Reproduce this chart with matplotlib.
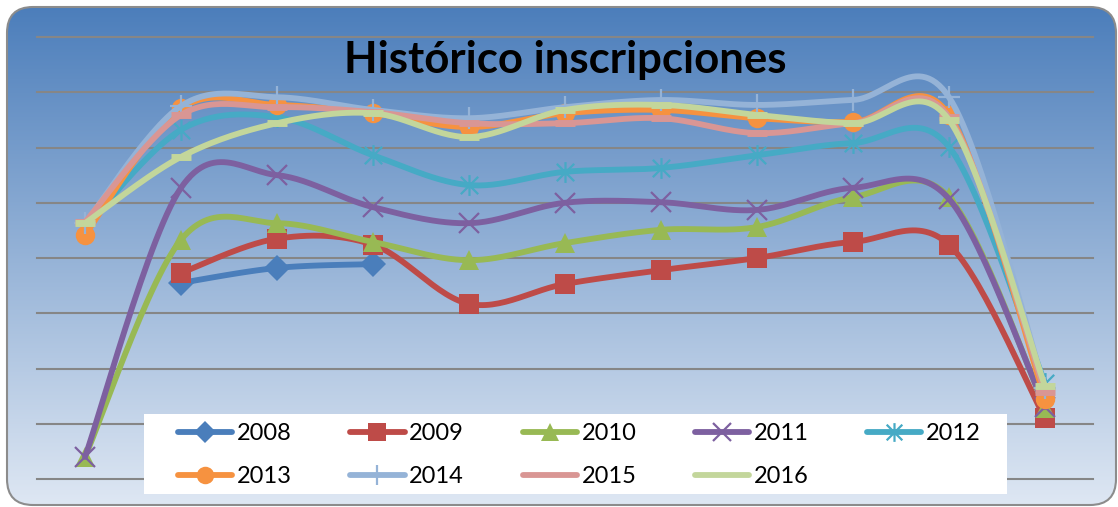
import numpy as np
import matplotlib
matplotlib.use('Agg')
import matplotlib.pyplot as plt
from matplotlib.patches import FancyBboxPatch, Rectangle
from matplotlib.path import Path
from matplotlib.lines import Line2D

nan = np.nan

# categories (no labels shown on the chart)
n_points = 11

series_names = ['2008', '2009', '2010', '2011', '2012', '2013', '2014', '2015', '2016']

y2008 = [nan, 3.55, 3.82, 3.89, nan, nan, nan, nan, nan, nan, nan]
y2009 = [nan, 3.73, 4.35, 4.24, 3.17, 3.53, 3.78, 4.00, 4.29, 4.24, 1.10]
y2010 = [0.40, 4.33, 4.63, 4.29, 3.96, 4.27, 4.51, 4.56, 5.10, 5.10, 1.29]
y2011 = [0.40, 5.27, 5.50, 4.92, 4.63, 5.00, 5.01, 4.87, 5.27, 5.07, 1.30]
y2012 = [4.55, 6.32, 6.55, 5.86, 5.32, 5.56, 5.63, 5.86, 6.08, 6.01, 1.74]
y2013 = [4.42, 6.71, 6.77, 6.62, 6.37, 6.62, 6.68, 6.53, 6.46, 6.59, 1.45]
y2014 = [4.63, 6.75, 6.91, 6.68, 6.53, 6.73, 6.86, 6.77, 6.86, 6.91, 1.65]
y2015 = [4.65, 6.59, 6.73, 6.64, 6.44, 6.44, 6.53, 6.26, 6.44, 6.55, 1.57]
y2016 = [4.63, 5.83, 6.44, 6.62, 6.19, 6.68, 6.77, 6.59, 6.44, 6.50, 1.68]

all_values = [y2008, y2009, y2010, y2011, y2012, y2013, y2014, y2015, y2016]

colors = ['#4A7EBB', '#BE4B48', '#98B954', '#7D60A0', '#46AAC5',
          '#F69240', '#95B3D7', '#D99694', '#C3D69B']

# excel style "asterisk" marker: an x with a vertical bar through it
_ast = Path([(-1, -1), (1, 1), (-1, 1), (1, -1), (0, -1.2), (0, 1.2)],
            [Path.MOVETO, Path.LINETO, Path.MOVETO, Path.LINETO, Path.MOVETO, Path.LINETO])

markers = ['D', 's', '^', 'x', _ast, 'o', '+', '_', '_']
msizes = [13, 14, 14, 14, 15, 14, 16, 14, 15]


def smooth(xs, ys, n=30):
    """Excel-like smoothed line (Catmull-Rom as cubic Bezier)."""
    xs = np.asarray(xs, float)
    ys = np.asarray(ys, float)
    if len(xs) < 3:
        return xs, ys
    px = np.concatenate([[xs[0]], xs, [xs[-1]]])
    py = np.concatenate([[ys[0]], ys, [ys[-1]]])
    t = np.linspace(0, 1, n)[:, None]
    outx, outy = [], []
    for i in range(1, len(px) - 2):
        p0 = np.array([px[i], py[i]])
        p3 = np.array([px[i + 1], py[i + 1]])
        c1 = p0 + (np.array([px[i + 1], py[i + 1]]) - np.array([px[i - 1], py[i - 1]])) / 6
        c2 = p3 - (np.array([px[i + 2], py[i + 2]]) - np.array([px[i], py[i]])) / 6
        b = ((1 - t) ** 3) * p0 + 3 * ((1 - t) ** 2) * t * c1 + 3 * (1 - t) * t ** 2 * c2 + t ** 3 * p3
        outx.append(b[:, 0])
        outy.append(b[:, 1])
    return np.concatenate(outx), np.concatenate(outy)


W, H = 1118, 507
fig = plt.figure(figsize=(W / 100, H / 100), dpi=100)
fig.patch.set_facecolor('white')

# gradient background inside a rounded frame
bg = fig.add_axes([0, 0, 1, 1])
bg.set_xlim(0, W)
bg.set_ylim(H, 0)
bg.axis('off')
top = np.array([76, 126, 187]) / 255
bot = np.array([222, 231, 243]) / 255
g = np.linspace(0, 1, 256)[:, None]
grad = top[None, :] * (1 - g) + bot[None, :] * g
img = bg.imshow(grad[:, None, :].repeat(2, axis=1), extent=(7, 1116, 505, 7),
                aspect='auto', interpolation='bilinear', zorder=0)
frame = FancyBboxPatch((7, 7), 1109, 498, boxstyle='round,pad=0,rounding_size=26',
                       fc='none', ec='#8c8c8c', lw=1.5, zorder=2)
bg.add_patch(frame)
img.set_clip_path(frame)

ax = fig.add_axes([37 / W, 1 - 479 / H, 1056 / W, 442 / H])
ax.patch.set_alpha(0)
ax.set_xlim(0, n_points)
ax.set_ylim(0, 8)
for v in range(0, 9):
    ax.axhline(v, color='#868686', lw=1.5, zorder=1, clip_on=False)
for s in ax.spines.values():
    s.set_visible(False)
ax.set_xticks([])
ax.set_yticks([])

x = np.arange(n_points) + 0.5
handles = []
for k, (name, vals) in enumerate(zip(series_names, all_values)):
    vals = np.asarray(vals, float)
    ok = ~np.isnan(vals)
    sx, sy = smooth(x[ok], vals[ok])
    ax.plot(sx, sy, color=colors[k], lw=4.2, solid_capstyle='round', zorder=3 + k * 0.1)
    mk = markers[k]
    filled = mk in ('D', 's', '^', 'o')
    ax.plot(x[ok], vals[ok], ls='none', marker=mk, ms=msizes[k],
            mfc=colors[k], mec=colors[k], mew=5 if mk == '_' else 1.6 if not filled else 0,
            zorder=3.05 + k * 0.1, clip_on=False)
    legend_marker = mk if mk != '_' else 'none'
    handles.append(Line2D([], [], color=colors[k], lw=4.2, solid_capstyle='round',
                          marker=legend_marker, ms=msizes[k] * 0.9, mfc=colors[k], mec=colors[k],
                          mew=1.6 if not filled else 0))

ax.text(0.5, (479 - 60) / 442, 'Histórico inscripciones', transform=ax.transAxes,
        ha='center', va='center', fontsize=31.5, fontweight='bold',
        family=['Lato', 'DejaVu Sans'], color='black', zorder=10)

# white legend box
box = Rectangle((144, 414), 863, 80, fc='white', ec='none', zorder=20)
fig.add_artist(box)
box.set_transform(bg.transData)

# matplotlib fills legend columns first; reorder so rows read 2008..2012 / 2013..2016
order = [0, 5, 1, 6, 2, 7, 3, 8, 4]
leg = fig.legend([handles[i] for i in order], [series_names[i] for i in order],
                 ncol=5, loc='upper left',
                 bbox_to_anchor=(178 / W, 1 - 423 / H), frameon=False,
                 prop={'family': ['Lato', 'DejaVu Sans'], 'size': 17},
                 handlelength=2.3, handletextpad=0.2, columnspacing=2.47,
                 labelspacing=0.95, borderpad=0, borderaxespad=0)
leg.set_zorder(30)

fig.savefig('out.png', dpi=100, facecolor='white')
